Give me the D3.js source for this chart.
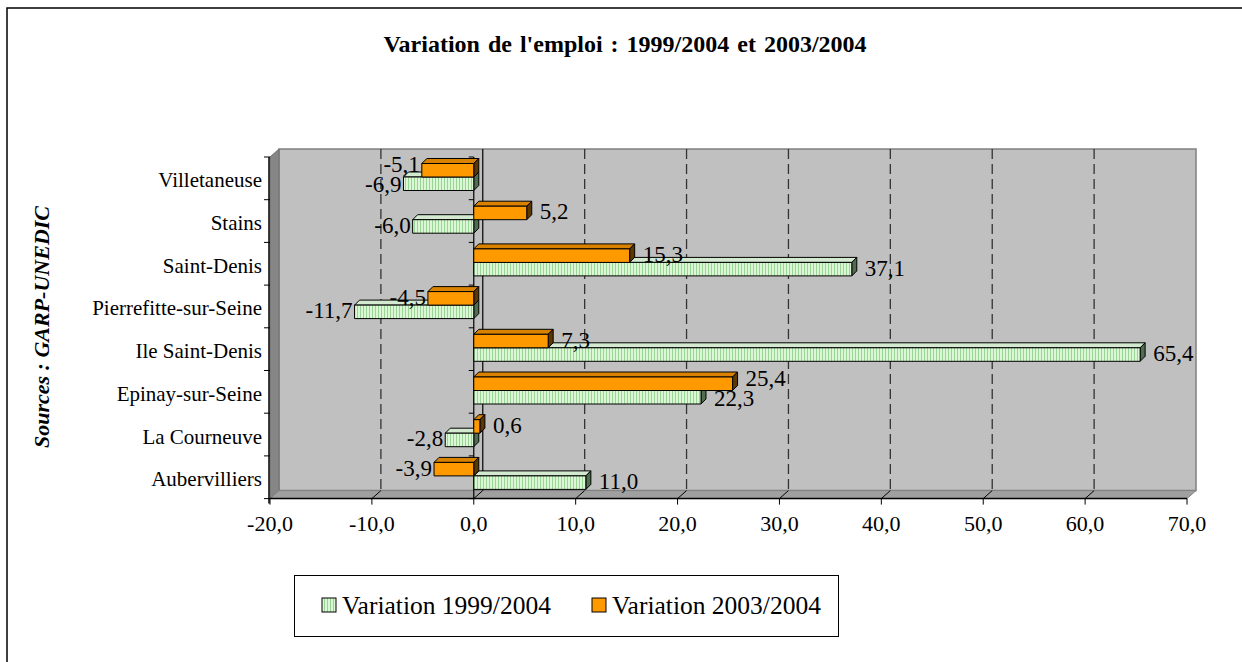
<!DOCTYPE html>
<html>
<head>
<meta charset="utf-8">
<script src="https://cdn.jsdelivr.net/npm/d3@7"></script>
<style>
  body { margin: 0; background: #fff; }
  svg text { font-family: "Liberation Serif", "Times New Roman", serif; }
</style>
</head>
<body>
<svg id="chart" width="1242" height="662"></svg>
<script>
// data (top to bottom)
var categories = ["Villetaneuse", "Stains", "Saint-Denis", "Pierrefitte-sur-Seine", "Ile Saint-Denis", "Epinay-sur-Seine", "La Courneuve", "Aubervilliers"];
var var1999 = [-6.9, -6.0, 37.1, -11.7, 65.4, 22.3, -2.8, 11.0];
var var2003 = [-5.1, 5.2, 15.3, -4.5, 7.3, 25.4, 0.6, -3.9];
var xTicks = [-20, -10, 0, 10, 20, 30, 40, 50, 60, 70];
var seriesNames = ["Variation 1999/2004", "Variation 2003/2004"];

var svg = d3.select("#chart");
var fr = d3.formatLocale({decimal: ",", thousands: " ", grouping: [3], currency: ["", " €"], minus: "-"});
var fmt = fr.format(".1f");

// frame
svg.append("path").attr("d", "M7,662V8H1242").attr("fill", "none").attr("stroke", "#000").attr("stroke-width", 1.5);

svg.append("text").attr("x", 625).attr("y", 52).attr("text-anchor", "middle")
	.attr("font-size", 24).attr("font-weight", "bold").attr("word-spacing", 2).text("Variation de l'emploi : 1999/2004 et 2003/2004");

svg.append("text").attr("transform", "translate(49,327) rotate(-90)").attr("text-anchor", "middle")
	.attr("font-size", 22).attr("font-weight", "bold").attr("font-style", "italic").text("Sources : GARP-UNEDIC");

var x = d3.scaleLinear().domain([-20, 70]).range([270, 1187]);
var y = d3.scaleBand().domain(categories).range([157, 498.6]);
var sub = d3.scaleBand().domain(["s2003", "s1999"]).range([6.5, 33.5]);
var DX = 9, DY = -8;   // wall depth
var bd = 5;            // bar depth
var x0 = x.range()[0], x1 = x.range()[1];
var yTop = y.range()[0], yBot = y.range()[1];

// pattern for 1999 series
var defs = svg.append("defs");
var pat = defs.append("pattern").attr("id", "stripes").attr("patternUnits", "userSpaceOnUse").attr("width", 3).attr("height", 10);
pat.append("rect").attr("width", 3).attr("height", 10).attr("fill", "#dcf7d6");
pat.append("rect").attr("width", 1).attr("height", 10).attr("fill", "#98d493");

// walls
svg.append("polygon").attr("points", [[x0 + DX, yTop + DY], [x1 + DX, yTop + DY], [x1 + DX, yBot + DY], [x0 + DX, yBot + DY]].join(" "))
	.attr("fill", "#c0c0c0").attr("stroke", "#808080").attr("stroke-width", 1.5);
svg.append("polygon").attr("points", [[x0, yTop], [x0 + DX, yTop + DY], [x0 + DX, yBot + DY], [x0, yBot]].join(" "))
	.attr("fill", "#868686").attr("stroke", "#707070");
svg.append("polygon").attr("points", [[x0, yBot], [x0 + DX, yBot + DY], [x1 + DX, yBot + DY], [x1, yBot]].join(" "))
	.attr("fill", "#a0a0a0").attr("stroke", "#808080");

// gridlines on back wall
xTicks.slice(1, -1).forEach(function (t) {
	svg.append("line").attr("x1", x(t) + DX).attr("x2", x(t) + DX).attr("y1", yTop + DY).attr("y2", yBot + DY)
		.attr("stroke", t === 0 ? "#000" : "#333").attr("stroke-width", t === 0 ? 1.2 : 1.3)
		.attr("stroke-dasharray", t === 0 ? null : "10,5");
	svg.append("line").attr("x1", x(t)).attr("x2", x(t) + DX).attr("y1", yBot).attr("y2", yBot + DY)
		.attr("stroke", "#000").attr("stroke-width", 1);
});

// x axis
svg.append("line").attr("x1", x0).attr("x2", x1).attr("y1", yBot).attr("y2", yBot).attr("stroke", "#000").attr("stroke-width", 1.5);
xTicks.forEach(function (t) {
	svg.append("line").attr("x1", x(t)).attr("x2", x(t)).attr("y1", yBot).attr("y2", yBot + 6).attr("stroke", "#000");
	svg.append("text").attr("x", x(t)).attr("y", yBot + 32).attr("text-anchor", "middle").attr("font-size", 22).text(fmt(t));
});

// left axis
svg.append("line").attr("x1", x0 - 1).attr("x2", x0 - 1).attr("y1", yTop).attr("y2", yBot + 5).attr("stroke", "#000").attr("stroke-width", 1.5);
var bounds = categories.map(function (c) { return y(c); }).concat([yBot]);
bounds.forEach(function (b) {
	svg.append("line").attr("x1", x0 - 6).attr("x2", x0).attr("y1", b).attr("y2", b).attr("stroke", "#000");
});
categories.forEach(function (c) {
	svg.append("text").attr("x", x0 - 8).attr("y", y(c) + y.bandwidth() / 2 + 9).attr("text-anchor", "end")
		.attr("font-size", 21).text(c);
});

// category axis at zero
svg.append("line").attr("x1", x(0)).attr("x2", x(0)).attr("y1", yTop).attr("y2", yBot).attr("stroke", "#000").attr("stroke-width", 1.2);
bounds.forEach(function (b) {
	svg.append("line").attr("x1", x(0) - 5).attr("x2", x(0)).attr("y1", b).attr("y2", b).attr("stroke", "#000");
});

// bars
var styles = {
	s1999: {front: "url(#stripes)", top: "#d3ead0", side: "#4f6e4f"},
	s2003: {front: "#ff9900", top: "#d98200", side: "#5a3800"}
};
function drawBar(v, cat, key) {
	var st = styles[key];
	var xa = Math.min(x(0), x(v)), xb = Math.max(x(0), x(v));
	var t = y(cat) + sub(key), h = sub.bandwidth();
	var g = svg.append("g").attr("stroke", "#000").attr("stroke-width", 1).attr("stroke-linejoin", "round");
	g.append("polygon").attr("points", [[xa, t], [xa + bd, t - bd], [xb + bd, t - bd], [xb, t]].join(" ")).attr("fill", st.top);
	g.append("polygon").attr("points", [[xb, t], [xb + bd, t - bd], [xb + bd, t + h - bd], [xb, t + h]].join(" ")).attr("fill", st.side);
	g.append("rect").attr("x", xa).attr("y", t).attr("width", xb - xa).attr("height", h).attr("fill", st.front);
}
categories.forEach(function (c, i) {
	drawBar(var1999[i], c, "s1999");
	drawBar(var2003[i], c, "s2003");
});

// value labels
function labelPos(v, cat, key) {
	var cy = y(cat) + sub(key) + sub.bandwidth() / 2 - 1.5;
	var txt = fmt(v);
	var w = txt.length * 11;
	if (v >= 0) return {x: x(v) + bd + 8, y: cy, anchor: "start", a: x(v) + bd + 8, b: x(v) + bd + 8 + w, txt: txt};
	return {x: x(v) - 2, y: cy, anchor: "end", a: x(v) - 2 - w, b: x(v) - 2, txt: txt};
}
categories.forEach(function (c, i) {
	var g1 = labelPos(var1999[i], c, "s1999");
	var o1 = labelPos(var2003[i], c, "s2003");
	if (g1.a < o1.b && o1.a < g1.b) {
		var gap = g1.y - o1.y;
		if (gap < 20) { o1.y -= (20 - gap) * 0.7; g1.y += (20 - gap) * 0.3; }
	}
	[g1, o1].forEach(function (p) {
		svg.append("text").attr("x", p.x).attr("y", p.y + 8).attr("text-anchor", p.anchor).attr("font-size", 23).text(p.txt);
	});
});

// legend
var lg = svg.append("g").attr("transform", "translate(294,575)");
lg.append("rect").attr("x", 0.5).attr("y", 0.5).attr("width", 544).attr("height", 61).attr("fill", "#fff").attr("stroke", "#000");
var legX = [28, 298];
seriesNames.forEach(function (n, i) {
	lg.append("rect").attr("x", legX[i]).attr("y", 23).attr("width", 14).attr("height", 14)
		.attr("fill", i === 0 ? "url(#stripes)" : "#ff9900").attr("stroke", "#000");
	lg.append("text").attr("x", legX[i] + 20).attr("y", 39).attr("font-size", 25.5).text(n);
});
</script>
</body>
</html>
